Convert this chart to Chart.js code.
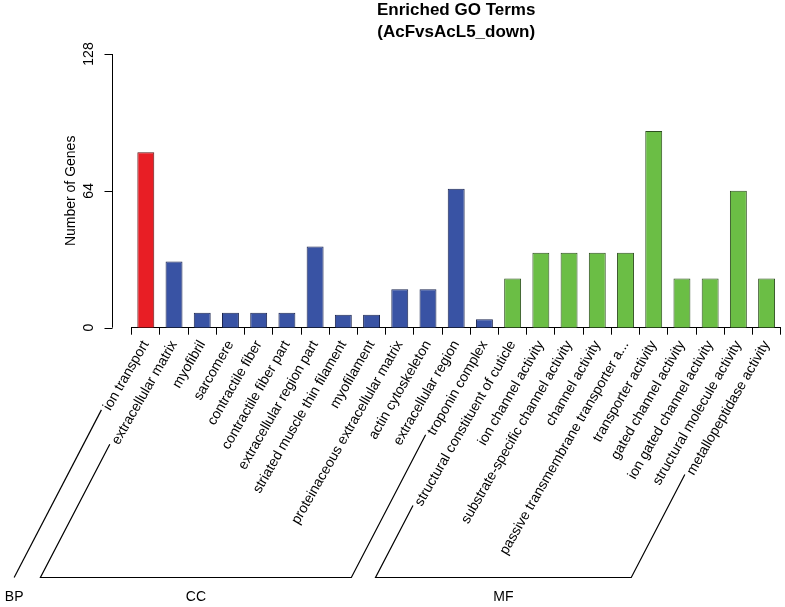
<!DOCTYPE html>
<html>
<head>
<meta charset="utf-8">
<script src="https://cdn.jsdelivr.net/npm/chart.js@4/dist/chart.umd.min.js"></script>
<style>
  html, body { margin: 0; padding: 0; background: #fff; }
  #c { display: block; }
</style>
</head>
<body>
<canvas id="c" width="785" height="607"></canvas>
<script>
// ---- data ----
const categories = [
  'ion transport',
  'extracellular matrix', 'myofibril', 'sarcomere', 'contractile fiber',
  'contractile fiber part', 'extracellular region part', 'striated muscle thin filament',
  'myofilament', 'proteinaceous extracellular matrix', 'actin cytoskeleton',
  'extracellular region', 'troponin complex',
  'structural constituent of cuticle', 'ion channel activity',
  'substrate-specific channel activity', 'channel activity',
  'passive transmembrane transporter a...', 'transporter activity',
  'gated channel activity', 'ion gated channel activity',
  'structural molecule activity', 'metallopeptidase activity'
];
const geneCounts = [82, 31, 7, 7, 7, 7, 38, 6, 6, 18, 18, 65, 4, 23, 35, 35, 35, 35, 92, 23, 23, 64, 23];
const groupOf = ['BP','CC','CC','CC','CC','CC','CC','CC','CC','CC','CC','CC','CC',
                 'MF','MF','MF','MF','MF','MF','MF','MF','MF','MF'];
const groupNames = ['BP', 'CC', 'MF'];
const yTicks = [0, 64, 128];
const titleLines = ['Enriched GO Terms', '(AcFvsAcL5_down)'];
const yTitle = 'Number of Genes';

// ---- styles ----
const fillCol = { BP: '#E81E25', CC: '#3953A4', MF: '#6BBE45' };
const edgeCol = { BP: '#5a1212', CC: '#1c2650', MF: '#2e4f1f' };
const FONT = '"Liberation Sans", Arial, Helvetica, sans-serif';

const decor = {
  id: 'decor',
  afterDraw(chart) {
    const { ctx, scales: { x, y } } = chart;
    ctx.save();
    ctx.strokeStyle = '#000';
    ctx.fillStyle = '#000';
    ctx.lineWidth = 1;
    // y axis (R style, detached)
    const ax = Math.round(x.left - 20) + 0.5;
    const yTop = y.getPixelForValue(yTicks[yTicks.length - 1]);
    const yBot = y.getPixelForValue(yTicks[0]);
    ctx.beginPath();
    ctx.moveTo(ax, yBot); ctx.lineTo(ax, yTop);
    yTicks.forEach(v => {
      const py = Math.round(y.getPixelForValue(v)) + 0.5;
      ctx.moveTo(ax, py); ctx.lineTo(ax - 8, py);
    });
    ctx.stroke();
    ctx.font = '14px ' + FONT;
    ctx.textAlign = 'center';
    ctx.textBaseline = 'middle';
    yTicks.forEach(v => {
      ctx.save();
      ctx.translate(ax - 23, y.getPixelForValue(v));
      ctx.rotate(-Math.PI / 2);
      ctx.fillText(String(v), 0, 0);
      ctx.restore();
    });
    ctx.save();
    ctx.translate(ax - 41, (yTop + yBot) / 2);
    ctx.rotate(-Math.PI / 2);
    ctx.fillText(yTitle, 0, 0);
    ctx.restore();

    // group brackets
    const items = x.getLabelItems();
    const baseY = 577.5;
    const slope = Math.tan(62.5 * Math.PI / 180);
    function startOf(i) {
      const it = items[i];
      const o = it.options;
      ctx.font = it.font.string;
      const w = ctx.measureText(it.label).width;
      const r = o.rotation;
      const off = it.textOffset || 0;
      const lx = -w - 3, ly = off;
      const sx = o.translation[0] + Math.cos(r) * lx - Math.sin(r) * ly - 4;
      const sy = o.translation[1] + Math.sin(r) * lx + Math.cos(r) * ly - 2;
      return { sx, sy, bx: sx - (baseY - sy) / slope };
    }
    ctx.lineWidth = 1.2;
    groupNames.forEach(g => {
      const first = groupOf.indexOf(g);
      const last = groupOf.lastIndexOf(g);
      const a = startOf(first), b = startOf(last);
      ctx.beginPath();
      ctx.moveTo(a.sx, a.sy);
      ctx.lineTo(a.bx, baseY);
      if (last !== first) {
        ctx.lineTo(b.bx, baseY);
        ctx.lineTo(b.sx, b.sy);
      }
      ctx.stroke();
      ctx.font = '14px ' + FONT;
      ctx.textAlign = 'center';
      ctx.textBaseline = 'middle';
      ctx.fillText(g, (a.bx + b.bx) / 2, 597);
    });
    ctx.restore();
  }
};

new Chart(document.getElementById('c'), {
  type: 'bar',
  data: {
    labels: categories,
    datasets: [{
      data: geneCounts,
      backgroundColor: groupOf.map(g => fillCol[g]),
      borderColor: groupOf.map(g => edgeCol[g]),
      borderWidth: 1,
      categoryPercentage: 1.0,
      barPercentage: 0.6
    }]
  },
  options: {
    responsive: false,
    devicePixelRatio: 1,
    animation: false,
    layout: { padding: { left: 131.7, right: 4.3, top: 0, bottom: 0 } },
    plugins: {
      legend: { display: false },
      tooltip: { enabled: false },
      title: {
        display: true,
        text: titleLines,
        fullSize: false,
        color: '#000',
        font: { family: FONT, size: 17, weight: 'bold', lineHeight: 1.25 },
        padding: { top: 0, bottom: 11.5 }
      }
    },
    scales: {
      y: { display: false, min: 0, max: 128 },
      x: {
        afterFit(scale) { scale.height = 279.3; },
        border: { display: true, color: '#000', width: 1 },
        grid: { display: true, drawOnChartArea: false, offset: true, tickLength: 7, color: '#000', tickColor: '#000' },
        ticks: {
          autoSkip: false, minRotation: 60, maxRotation: 60, padding: 3,
          color: '#000', font: { family: FONT, size: 14 }
        }
      }
    }
  },
  plugins: [decor]
});
</script>
</body>
</html>
